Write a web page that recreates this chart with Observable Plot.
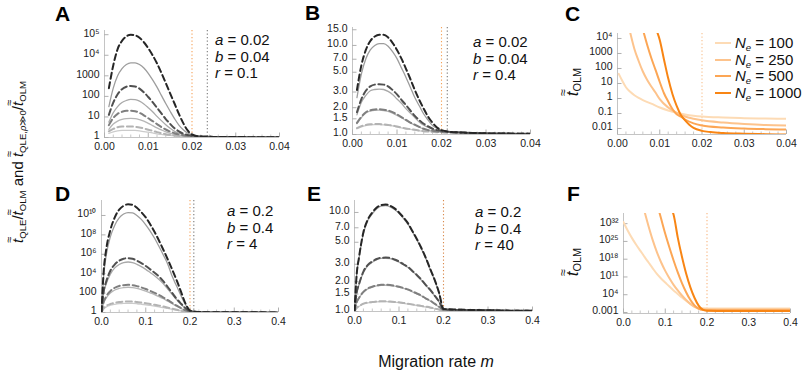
<!DOCTYPE html>
<html><head><meta charset="utf-8">
<script src="https://cdn.jsdelivr.net/npm/d3@7"></script>
<script src="https://cdn.jsdelivr.net/npm/@observablehq/plot@0.6"></script>
<style>
body{margin:0;background:#fff;}
#root{position:relative;width:803px;height:377px;overflow:hidden;font-family:"Liberation Sans",Arial,Helvetica,sans-serif;color:#111;background:#fff;}
#root svg{position:absolute;overflow:visible;}
.tt{position:relative;display:inline-block;font-style:italic;}
.tt .til{position:absolute;left:0.04em;top:-0.5em;font-size:0.72em;font-style:normal;line-height:1;}
sub{font-size:0.64em;vertical-align:-0.28em;line-height:0;}
</style></head>
<body><div id="root"></div>
<script>
// ---------- DATA ----------
const neLevels = [100, 250, 500, 1000];
const mTop = [0.001,0.002,0.003,0.004,0.005,0.006,0.007,0.008,0.009,0.010,0.011,0.012,0.013,0.014,0.015,0.016,0.017,0.018,0.019,0.020,0.022,0.025,0.030,0.035,0.040];
const mBottom = [0,0.005,0.01,0.02,0.03,0.04,0.05,0.06,0.07,0.08,0.09,0.10,0.11,0.12,0.13,0.14,0.15,0.16,0.17,0.18,0.19,0.20,0.22,0.25,0.30,0.35,0.40];

// Panel A (a=0.02, b=0.04, r=0.1): dashed = QLE/OLM, solid = QLE,rho>>0/OLM
const aDash100  = [2.0,2.6,3.16,3.4,3.47,3.47,3.3,3.1,2.75,2.4,2.1,1.82,1.62,1.45,1.35,1.26,1.2,1.15,1.12,1.1,1.08,1.06,1.05,1.035,1.03];
const aSolid100 = [1.58,1.9,2.1,2.2,2.24,2.24,2.2,2.1,1.95,1.82,1.66,1.51,1.41,1.32,1.26,1.2,1.15,1.12,1.1,1.09,1.08,1.06,1.05,1.035,1.03];
const aDash250  = [4.0,8.9,14.1,17.8,20,20,19,15.8,12,8.7,6.3,4.5,3.2,2.45,1.95,1.62,1.41,1.29,1.2,1.15,1.11,1.07,1.05,1.035,1.03];
const aSolid250 = [2.5,4.5,6.3,7.6,8.3,8.5,8.3,7.4,6.2,4.9,3.8,2.95,2.35,1.9,1.62,1.41,1.29,1.2,1.15,1.12,1.1,1.07,1.05,1.035,1.03];
const aDash500  = [12.6,50,126,224,295,324,302,240,158,93,52,28,14.8,7.9,4.6,2.8,2.0,1.55,1.32,1.2,1.12,1.07,1.05,1.035,1.03];
const aSolid500 = [5.6,16,32,50,63,71,69,59,43,28,17.8,10.7,6.6,4.2,2.8,2.0,1.62,1.38,1.26,1.17,1.12,1.07,1.05,1.035,1.03];
const aDash1000 = [250,3200,20000,50000,83000,100000,93000,71000,43000,22000,10000,4000,1400,450,140,45,14,5,2.2,1.4,1.12,1.07,1.05,1.035,1.03];
const aSolid1000= [32,250,1000,2240,3550,4270,4270,3550,2400,1320,630,280,112,45,19,8.3,4,2.4,1.66,1.35,1.12,1.07,1.05,1.035,1.03];

// Panel B (a=0.02, b=0.04, r=0.4)
const bDash100  = [1.18,1.24,1.28,1.3,1.31,1.31,1.3,1.28,1.26,1.23,1.2,1.17,1.15,1.13,1.11,1.09,1.08,1.07,1.06,1.06,1.05,1.04,1.03,1.023,1.018];
const bSolid100 = [1.16,1.22,1.26,1.28,1.29,1.29,1.28,1.27,1.25,1.22,1.19,1.16,1.14,1.12,1.1,1.09,1.08,1.07,1.06,1.06,1.05,1.04,1.03,1.023,1.018];
const bDash250  = [1.35,1.58,1.78,1.87,1.91,1.92,1.9,1.86,1.78,1.68,1.57,1.46,1.36,1.29,1.22,1.16,1.12,1.1,1.08,1.07,1.06,1.05,1.03,1.023,1.018];
const bSolid250 = [1.32,1.55,1.74,1.83,1.87,1.88,1.86,1.82,1.74,1.64,1.54,1.44,1.35,1.27,1.21,1.15,1.12,1.1,1.08,1.07,1.06,1.05,1.03,1.023,1.018];
const bDash500  = [1.78,2.5,3.1,3.47,3.63,3.66,3.63,3.47,3.16,2.82,2.45,2.14,1.86,1.62,1.45,1.32,1.23,1.16,1.12,1.1,1.07,1.05,1.03,1.023,1.018];
const bSolid500 = [1.66,2.3,2.75,3.1,3.2,3.24,3.2,3.05,2.82,2.5,2.24,1.95,1.74,1.55,1.38,1.27,1.2,1.15,1.11,1.08,1.07,1.05,1.03,1.023,1.018];
const bDash1000 = [3.16,6.0,8.9,11.2,12.6,13.2,13.2,12.3,10.7,8.9,7.1,5.5,4.2,3.16,2.45,1.95,1.58,1.35,1.2,1.12,1.07,1.05,1.03,1.023,1.018];
const bSolid1000= [2.6,4.8,7.1,8.9,10,10.5,10.5,9.8,8.5,7.1,5.6,4.4,3.4,2.6,2.1,1.7,1.45,1.26,1.17,1.11,1.07,1.05,1.03,1.023,1.018];

// Panel D (a=0.2, b=0.4, r=4)
const dDash100  = [1,2.8,4.5,7.6,10,12,13.2,13.5,13.2,12,10.5,9.1,7.6,6.3,5.1,4.1,3.16,2.45,1.9,1.5,1.23,1.1,1.07,1.06,1.05,1.035,1.02];
const dSolid100 = [1,2.4,3.6,5.6,7,8.1,8.7,8.9,8.7,8,7.1,6.2,5.3,4.5,3.8,3.1,2.6,2.1,1.75,1.45,1.2,1.08,1.07,1.06,1.05,1.035,1.02];
const dDash250  = [1,12.6,40,160,355,540,660,710,660,525,380,263,170,107,63,35,18.6,9.5,5,2.8,1.7,1.2,1.1,1.07,1.05,1.035,1.02];
const dSolid250 = [1,10,28,100,210,300,370,400,370,300,224,158,107,71,44,26,14.5,8,4.4,2.6,1.6,1.17,1.1,1.07,1.05,1.035,1.02];
const dDash500  = [1,160,1260,2e4,9e4,2.2e5,3.5e5,4e5,3.5e5,2.2e5,1.26e5,6.3e4,2.8e4,1.26e4,5e3,1.6e3,400,100,25,8,2.8,1.4,1.12,1.07,1.05,1.035,1.02];
const dSolid500 = [1,100,700,9e3,4e4,9e4,1.4e5,1.6e5,1.4e5,9.3e4,5.4e4,2.8e4,1.3e4,6e3,2.5e3,900,250,70,20,6.6,2.6,1.38,1.12,1.07,1.05,1.035,1.02];
const dDash1000 = [1,2e4,2e6,3.2e8,6.3e9,4e10,1e11,1.4e11,1.26e11,6.3e10,2.2e10,6.3e9,1.26e9,2e8,2.5e7,2.8e6,2.8e5,2.5e4,2e3,126,8,1.6,1.12,1.07,1.05,1.035,1.02];
const dSolid1000= [1,6.3e3,5e5,6.3e7,1e9,5.6e9,1.4e10,2e10,1.9e10,1e10,4e9,1.1e9,2.5e8,4.5e7,6.3e6,8e5,9e4,5e3,500,50,6.3,1.6,1.12,1.07,1.05,1.035,1.02];

// Panel E (a=0.2, b=0.4, r=40)
const eDash100  = [1,1.09,1.13,1.2,1.23,1.25,1.26,1.27,1.27,1.26,1.25,1.24,1.22,1.2,1.18,1.16,1.14,1.12,1.1,1.07,1.045,1.015,1.02,1.02,1.02,1.02,1.02];
const eSolid100 = [1,1.085,1.125,1.19,1.22,1.24,1.25,1.26,1.26,1.25,1.24,1.23,1.21,1.19,1.17,1.15,1.13,1.11,1.09,1.07,1.045,1.015,1.02,1.02,1.02,1.02,1.02];
const eDash250  = [1,1.24,1.37,1.58,1.71,1.78,1.83,1.86,1.86,1.85,1.82,1.78,1.73,1.67,1.6,1.52,1.45,1.36,1.29,1.2,1.12,1.035,1.03,1.03,1.02,1.02,1.02];
const eSolid250 = [1,1.23,1.36,1.56,1.69,1.76,1.81,1.84,1.84,1.83,1.8,1.76,1.71,1.65,1.58,1.51,1.44,1.35,1.28,1.19,1.11,1.035,1.03,1.03,1.02,1.02,1.02];
const eDash500  = [1,1.56,1.88,2.53,2.95,3.2,3.39,3.49,3.5,3.47,3.35,3.2,3.0,2.82,2.57,2.34,2.1,1.86,1.66,1.45,1.26,1.05,1.04,1.03,1.03,1.02,1.02];
const eSolid500 = [1,1.54,1.85,2.48,2.9,3.14,3.33,3.43,3.44,3.41,3.3,3.15,2.96,2.78,2.54,2.31,2.08,1.84,1.64,1.44,1.25,1.05,1.04,1.03,1.03,1.02,1.02];
const eDash1000 = [1,2.4,3.5,6.3,8.5,10,11.2,11.9,12,11.7,11,10,8.9,7.8,6.5,5.4,4.4,3.5,2.7,2.1,1.55,1.06,1.05,1.04,1.03,1.02,1.02];
const eSolid1000= [1,2.35,3.4,6.1,8.3,9.7,10.9,11.6,11.7,11.4,10.7,9.8,8.7,7.6,6.4,5.3,4.3,3.45,2.65,2.07,1.53,1.06,1.05,1.04,1.03,1.02,1.02];

// Panel C: t_OLM (a=0.02, b=0.04)
const cM100  = [0.0003,0.001,0.002,0.003,0.004,0.005,0.006,0.008,0.010,0.012,0.014,0.016,0.018,0.020,0.025,0.030,0.035,0.040];
const cT100  = [44,17.8,5.6,2.8,1.66,1.1,0.79,0.45,0.25,0.16,0.112,0.087,0.072,0.063,0.054,0.049,0.046,0.044];
const cM250  = [0.003,0.004,0.005,0.006,0.007,0.008,0.009,0.010,0.012,0.014,0.016,0.018,0.020,0.025,0.030,0.035,0.040];
const cT250  = [25000,2000,316,63,17.8,6.3,2.5,0.9,0.25,0.11,0.063,0.045,0.035,0.025,0.02,0.017,0.016];
const cM500  = [0.006,0.007,0.008,0.009,0.010,0.011,0.012,0.013,0.014,0.015,0.016,0.018,0.020,0.025,0.030,0.035,0.040];
const cT500  = [40000,4000,500,80,12.6,2.24,0.63,0.2,0.089,0.063,0.04,0.022,0.016,0.0117,0.01,0.0091,0.0085];
const cM1000 = [0.0093,0.010,0.011,0.012,0.013,0.014,0.015,0.016,0.017,0.018,0.020,0.022,0.025,0.030,0.035,0.040];
const cT1000 = [31600,8000,400,22,2.0,0.32,0.079,0.035,0.018,0.011,0.007,0.0058,0.005,0.0045,0.0042,0.004];

// Panel F: t_OLM (a=0.2, b=0.4)
const fM100  = [0,0.01,0.02,0.03,0.04,0.05,0.06,0.07,0.08,0.09,0.10,0.11,0.12,0.13,0.14,0.15,0.16,0.17,0.18,0.19,0.20,0.25,0.30,0.35,0.40];
const fT100  = [4e32,2e29,2.5e26,6.3e23,2.5e21,1e19,5e16,2.5e14,1.6e12,2.5e10,6.3e8,1.6e7,5e5,2e4,800,40,2.5,0.25,0.063,0.042,0.04,0.04,0.04,0.04,0.04];
const fM250  = [0.05,0.06,0.07,0.08,0.09,0.10,0.11,0.12,0.13,0.14,0.15,0.16,0.17,0.18,0.19,0.20,0.25,0.30,0.35,0.40];
const fT250  = [1e37,1e31,3.2e25,6.3e20,6.3e16,2.5e13,3.2e10,8e7,5e5,5e3,80,2.5,0.16,0.032,0.018,0.016,0.016,0.016,0.016,0.016];
const fM500  = [0.085,0.09,0.10,0.11,0.12,0.13,0.14,0.15,0.16,0.17,0.18,0.19,0.20,0.25,0.30,0.35,0.40];
const fT500  = [1e37,1e34,1e28,4e22,3.2e17,6.3e12,4e8,1e5,100,0.63,0.032,0.01,0.008,0.008,0.008,0.008,0.008];
const fM1000 = [0.117,0.12,0.13,0.14,0.15,0.16,0.17,0.18,0.19,0.20,0.25,0.30,0.35,0.40];
const fT1000 = [1e37,3.2e35,3.2e26,1e19,2.5e12,1e7,630,0.5,0.0126,0.005,0.004,0.004,0.004,0.004];

// critical migration rates (dotted lines)
const critOrangeTop = 0.02, critGreyA = 0.0235, critGreyB = 0.0213;
const critOrangeBottom = 0.2, critGreyD = 0.2086;

// ticks
const xTicksTop = [0,0.01,0.02,0.03,0.04];
const xLabelsTop = ["0.00","0.01","0.02","0.03","0.04"];
const xMinorTop = [0.002,0.004,0.006,0.008,0.012,0.014,0.016,0.018,0.022,0.024,0.026,0.028,0.032,0.034,0.036,0.038];
const xTicksBottom = [0,0.1,0.2,0.3,0.4];
const xLabelsBottom = ["0.0","0.1","0.2","0.3","0.4"];
const xMinorBottom = [0.02,0.04,0.06,0.08,0.12,0.14,0.16,0.18,0.22,0.24,0.26,0.28,0.32,0.34,0.36,0.38];
const yTicksA = [1,10,100,1000,1e4,1e5];      const yLabelsA = ["1","10","100","1000","10⁴","10⁵"];
const yTicksB = [1,1.5,2,3,5,7,10,15];       const yLabelsB = ["1.0","1.5","2.0","3.0","5.0","7.0","10.0","15.0"];
const yTicksC = [0.01,0.1,1,10,100,1000,1e4]; const yLabelsC = ["0.01","0.1","1","10","100","1000","10⁴"];
const yTicksD = [1,100,1e4,1e6,1e8,1e10];     const yLabelsD = ["1","100","10⁴","10⁶","10⁸","10¹⁰"];
const yTicksE = [1,1.5,2,3,5,7,10];          const yLabelsE = ["1.0","1.5","2.0","3.0","5.0","7.0","10.0"];
const yTicksF = [0.001,1e4,1e11,1e18,1e25,1e32]; const yLabelsF = ["0.001","10⁴","10¹¹","10¹⁸","10²⁵","10³²"];

const paramsA = [["a","0.02"],["b","0.04"],["r","0.1"]];
const paramsB = [["a","0.02"],["b","0.04"],["r","0.4"]];
const paramsD = [["a","0.2"],["b","0.4"],["r","4"]];
const paramsE = [["a","0.2"],["b","0.4"],["r","40"]];

// ---------- STYLE ----------
const dashColors  = ["#b3b3b3","#7f7f7f","#505050","#262626"];
const solidColors = ["#cbcbcb","#b6b6b6","#a9a9a9","#9d9d9d"];
const orangeColors = ["#fddbb5","#fdc38c","#fca655","#f88514"];
const root = document.getElementById("root");
const FONT = '"Liberation Sans", Arial, Helvetica, sans-serif';

function rows(ms, vs) { return ms.map((m, i) => ({m, v: vs[i]})); }

function panel(cfg) {
  const {fx0, fx1, fy0, fy1, xDomain, yDomain, xTicks, xLabels, xMinor, yTicks, yLabels, marks} = cfg;
  const mL = 50, mR = 14, mT = 6, mB = 22;
  const fw = fx1 - fx0, fh = fy1 - fy0;
  const svg = Plot.plot({
    width: fw + mL + mR, height: fh + mT + mB,
    marginLeft: mL, marginRight: mR, marginTop: mT, marginBottom: mB,
    style: {fontFamily: FONT, fontSize: "10.5px", color: "#1a1a1a", background: "transparent", overflow: "visible"},
    x: {domain: xDomain},
    y: {type: "log", domain: yDomain},
    marks: [
      Plot.ruleY([yDomain[0]], {stroke: "#c4c4c4", strokeWidth: 1}),
      Plot.ruleX([xDomain[0]], {stroke: "#c4c4c4", strokeWidth: 1}),
      Plot.tickX(xMinor, {x: d => d, stroke: "#c8c8c8", insetTop: fh - 2.5}),
      Plot.tickX(xTicks, {x: d => d, stroke: "#b0b0b0", insetTop: fh - 4.5}),
      Plot.tickY(yTicks, {y: d => d, stroke: "#b0b0b0", insetRight: fw - 4.5}),
      Plot.axisX({ticks: xTicks, tickFormat: d => xLabels[xTicks.indexOf(d)], tickSize: 0, tickPadding: 5.5, label: null}),
      Plot.axisY({ticks: yTicks, tickFormat: d => yLabels[yTicks.indexOf(d)], tickSize: 0, tickPadding: 5, dy: -1.5, label: null}),
      ...marks
    ]
  });
  svg.style.left = (fx0 - mL) + "px";
  svg.style.top = (fy0 - mT) + "px";
  root.append(svg);
}

function vline(x, color) {
  return Plot.ruleX([x], {stroke: color, strokeWidth: 1.1, strokeDasharray: "1.3,2.2"});
}
function ratioMarks(ms, solids, dashes) {
  const out = [];
  solids.forEach((s, i) => out.push(Plot.line(rows(ms, s), {x: "m", y: "v", stroke: solidColors[i], strokeWidth: 1.3, curve: "monotone-x", clip: true})));
  dashes.forEach((s, i) => out.push(Plot.line(rows(ms, s), {x: "m", y: "v", stroke: dashColors[i], strokeWidth: 2, strokeDasharray: "6,3.5", curve: "monotone-x", clip: true})));
  return out;
}
function olmMarks(series) {
  return series.map(([ms, ts], i) => Plot.line(rows(ms, ts), {x: "m", y: "v", stroke: orangeColors[i], strokeWidth: 2, curve: "monotone-x", clip: true}));
}

// Panel A
panel({fx0: 104, fx1: 279, fy0: 30, fy1: 137, xDomain: [0, 0.04], yDomain: [1, 1.6e5],
  xTicks: xTicksTop, xLabels: xLabelsTop, xMinor: xMinorTop, yTicks: yTicksA, yLabels: yLabelsA,
  marks: [vline(critOrangeTop, "#f4a25a"), vline(critGreyA, "#7a7a7a"),
    ...ratioMarks(mTop, [aSolid100, aSolid250, aSolid500, aSolid1000], [aDash100, aDash250, aDash500, aDash1000])]});
// Panel B
panel({fx0: 352, fx1: 530, fy0: 27, fy1: 134, xDomain: [0, 0.04], yDomain: [1, 15.9],
  xTicks: xTicksTop, xLabels: xLabelsTop, xMinor: xMinorTop, yTicks: yTicksB, yLabels: yLabelsB,
  marks: [vline(critOrangeTop, "#f4a25a"), vline(critGreyB, "#7a7a7a"),
    ...ratioMarks(mTop, [bSolid100, bSolid250, bSolid500, bSolid1000], [bDash100, bDash250, bDash500, bDash1000])]});
// Panel C
panel({fx0: 617, fx1: 786, fy0: 33, fy1: 134, xDomain: [0, 0.04], yDomain: [0.004, 21400],
  xTicks: xTicksTop, xLabels: xLabelsTop, xMinor: xMinorTop, yTicks: yTicksC, yLabels: yLabelsC,
  marks: [vline(critOrangeTop, "#f8c08e"),
    ...olmMarks([[cM100, cT100], [cM250, cT250], [cM500, cT500], [cM1000, cT1000]])]});
// Panel D
panel({fx0: 101, fx1: 278, fy0: 200, fy1: 312, xDomain: [0, 0.4], yDomain: [1, 3.5e11],
  xTicks: xTicksBottom, xLabels: xLabelsBottom, xMinor: xMinorBottom, yTicks: yTicksD, yLabels: yLabelsD,
  marks: [vline(critOrangeBottom, "#f4a25a"), vline(critGreyD, "#7a7a7a"),
    ...ratioMarks(mBottom, [dSolid100, dSolid250, dSolid500, dSolid1000], [dDash100, dDash250, dDash500, dDash1000])]});
// Panel E
panel({fx0: 354, fx1: 532, fy0: 200, fy1: 311, xDomain: [0, 0.4], yDomain: [1, 13.2],
  xTicks: xTicksBottom, xLabels: xLabelsBottom, xMinor: xMinorBottom, yTicks: yTicksE, yLabels: yLabelsE,
  marks: [vline(critOrangeBottom, "#d98a4e"),
    ...ratioMarks(mBottom, [eSolid100, eSolid250, eSolid500, eSolid1000], [eDash100, eDash250, eDash500, eDash1000])]});
// Panel F
panel({fx0: 623, fx1: 790, fy0: 213, fy1: 313, xDomain: [0, 0.4], yDomain: [0.0004, 1e36],
  xTicks: xTicksBottom, xLabels: xLabelsBottom, xMinor: xMinorBottom, yTicks: yTicksF, yLabels: yLabelsF,
  marks: [vline(critOrangeBottom, "#f8b47e"),
    ...olmMarks([[fM100, fT100], [fM250, fT250], [fM500, fT500], [fM1000, fT1000]])]});

// ---------- TEXT ----------
function addHTML(html, css) {
  const d = document.createElement("div");
  d.innerHTML = html;
  Object.assign(d.style, {position: "absolute", whiteSpace: "nowrap"}, css);
  root.append(d);
  return d;
}
const T = '<span class="tt">t<span class="til">≈</span></span>';

[["A",55,3],["B",305,2],["C",565,3],["D",55,183],["E",307,183],["F",567,183]].forEach(([l, x, y]) =>
  addHTML(l, {left: x + "px", top: y + "px", fontSize: "21px", fontWeight: "bold", lineHeight: "1", color: "#000"}));

function params(list, x, y) {
  list.forEach(([k, v], i) => addHTML(`<i>${k}</i> = ${v}`, {left: x + "px", top: (y + i * 16.5) + "px", fontSize: "15px", lineHeight: "16px", color: "#111"}));
}
params(paramsA, 215, 32);
params(paramsB, 473, 34);
params(paramsD, 227, 203);
params(paramsE, 475, 204);

// legend (panel C)
neLevels.forEach((ne, i) => addHTML(
  `<span style="display:inline-block;width:16px;height:2px;background:${orangeColors[i]};vertical-align:middle;margin-right:4px;position:relative;top:-1px"></span><i>N</i><sub><i>e</i></sub> = ${ne}`,
  {left: "715px", top: (35 + i * 16.7) + "px", fontSize: "15px", lineHeight: "16px", color: "#111"}));

// axis titles
const rot = (cx, cy) => ({left: cx + "px", top: cy + "px", transform: "translate(-50%,-50%) rotate(-90deg)"});
addHTML(`${T}<sub>QLE</sub>/${T}<sub>OLM</sub> and ${T}<sub>QLE,<i>ρ</i>≫0</sub>/${T}<sub>OLM</sub>`,
  Object.assign(rot(18, 162), {fontSize: "15px", lineHeight: "18px", color: "#111"}));
addHTML(`${T}<sub>OLM</sub>`, Object.assign(rot(573, 82), {fontSize: "17px", lineHeight: "20px", color: "#111"}));
addHTML(`${T}<sub>OLM</sub>`, Object.assign(rot(573, 262), {fontSize: "17px", lineHeight: "20px", color: "#111"}));
addHTML(`Migration rate <i>m</i>`, {left: "436px", top: "362px", transform: "translate(-50%,-50%)", fontSize: "16px", color: "#111"});
</script></body></html>
